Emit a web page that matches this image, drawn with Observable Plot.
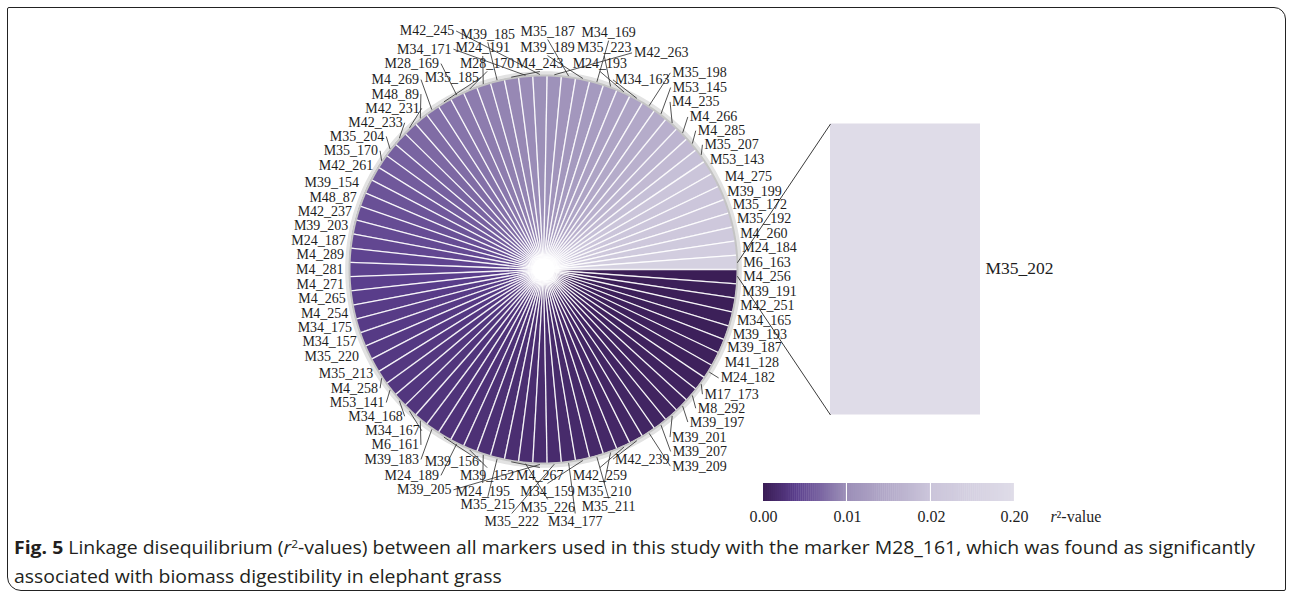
<!DOCTYPE html>
<html>
<head>
<meta charset="utf-8">
<script src="https://cdn.jsdelivr.net/npm/d3@7"></script>
<script src="https://cdn.jsdelivr.net/npm/@observablehq/plot@0.6"></script>
<style>
  html, body { margin: 0; padding: 0; background: #fff; }
  body { width: 1292px; height: 601px; position: relative; overflow: hidden; }
  #frame { position: absolute; left: 7px; top: 7px; width: 1279px; height: 584px; box-sizing: border-box;
           border: 1.6px solid #222; border-radius: 2px 12px 2px 14px; }
  #chart { position: absolute; left: 0; top: 0; }
  #caption { position: absolute; left: 14px; top: 532px; font-family: "Open Sans", sans-serif; font-size: 18.5px;
             line-height: 29px; color: #231f20; transform-origin: 0 0; white-space: nowrap; }
  #caption .ln { display: inline-block; }
  #caption sup { font-size: 0.62em; line-height: 0; vertical-align: 0.55em; }
</style>
</head>
<body>
<div id="frame"></div>
<div id="chart"></div>
<div id="caption"><div class="ln" id="l1"><b>Fig. 5</b> Linkage disequilibrium (<i>r</i><sup>2</sup>-values) between all markers used in this study with the marker M28_161, which was found as significantly</div><br><div class="ln" id="l2">associated with biomass digestibility in elephant grass</div></div>
<script>
// Markers, clockwise from 3 o'clock, with their r² to M28_161
const markers = [
  "M4_256","M39_191","M42_251","M34_165","M39_193","M39_187","M41_128","M24_182","M17_173","M8_292",
  "M39_197","M39_201","M39_207","M39_209","M42_239","M42_259","M35_210","M35_211","M34_159","M34_177",
  "M35_222","M39_205","M35_226","M4_267","M35_215","M24_195","M39_152","M24_189","M39_156","M39_183",
  "M6_161","M34_167","M34_168","M53_141","M4_258","M35_213","M35_220","M34_157","M34_175","M4_254",
  "M4_265","M4_271","M4_281","M4_289","M24_187","M39_203","M42_237","M48_87","M39_154","M42_261",
  "M35_170","M35_204","M42_233","M42_231","M48_89","M4_269","M35_185","M28_169","M28_170","M24_191",
  "M39_185","M4_243","M34_171","M42_245","M42_263","M35_187","M39_189","M34_169","M35_223","M24_193",
  "M34_163","M35_198","M53_145","M4_235","M4_266","M4_285","M35_207","M53_143","M4_275","M39_199",
  "M35_172","M35_192","M4_260","M24_184","M6_163"
];
const r2Values = [
  0.0001,0.0002,0.0002,0.0003,0.0003,0.0004,0.0005,0.0005,0.0006,0.0007,
  0.0008,0.0008,0.0009,0.0010,0.0011,0.0012,0.0013,0.0014,0.0015,0.0016,
  0.0017,0.0018,0.0019,0.0020,0.0021,0.0022,0.0023,0.0024,0.0025,0.0026,
  0.0027,0.0028,0.0029,0.0030,0.0031,0.0032,0.0033,0.0034,0.0035,0.0036,
  0.0038,0.0040,0.0042,0.0044,0.0046,0.0048,0.0050,0.0053,0.0056,0.0059,
  0.0062,0.0065,0.0068,0.0071,0.0074,0.0077,0.0080,0.0083,0.0086,0.0089,
  0.0092,0.0095,0.0098,0.0101,0.0105,0.0110,0.0115,0.0120,0.0126,0.0132,
  0.0139,0.0146,0.0154,0.0162,0.0171,0.0180,0.0190,0.0200,0.0230,0.0280,
  0.0350,0.0450,0.0600,0.0800,0.1100
];
// Marker shown in the side bar
const barMarker = "M35_202";
const barR2 = 0.20;
// Colour legend
const legendTicks = [0, 0.01, 0.02, 0.20];
const legendTickLabels = ["0.00", "0.01", "0.02", "0.20"];
const colorStops = [0, 0.004, 0.01, 0.02, 0.20];
const colorRange = ["#3a1d55", "#5b3f8d", "#9c8fb8", "#cbc5da", "#dfdce8"];

// Layout: pie centre and radius in pixels; chart units are pie radii
const W = 1292, H = 535;
const cx = 543, cy = 269, R = 194;
const n = markers.length;
const step = 2 * Math.PI / n;
const ux = (px) => (px - cx) / R;
const uy = (py) => (cy - py) / R;

// Wedge outlines (arc points; the area closes onto the centre)
const arcPts = markers.flatMap((name, i) => d3.range(9).map((k) => {
  const a = (i + k / 8) * step;
  return {name, r2: r2Values[i], x: Math.cos(a), y: -Math.sin(a)};
}));

// Label placement: try spots outside the rim, nearest first, skipping collisions
const ctx = document.createElement("canvas").getContext("2d");
ctx.font = "14px 'Liberation Serif'";
const textW = (s) => ctx.measureText(s).width;
const obstacles = [[822, 108, 1072, 426], [752, 474, 1120, 534]];
const boxes = [];
const hits = (b) => {
  for (const o of obstacles.concat(boxes)) {
    if (b[0] < o[2] + 1.5 && b[2] > o[0] - 1.5 && b[1] < o[3] + 0.6 && b[3] > o[1] - 0.6) return true;
  }
  return false;
};
const rectDist = (b) => Math.hypot(Math.max(b[0] - cx, 0, cx - b[2]), Math.max(b[1] - cy, 0, cy - b[3]));
const segDist = (x1, y1, x2, y2) => {
  const vx = x2 - x1, vy = y2 - y1, L = vx * vx + vy * vy || 1;
  const t = Math.max(0, Math.min(1, ((cx - x1) * vx + (cy - y1) * vy) / L));
  return Math.hypot(x1 + t * vx - cx, y1 + t * vy - cy);
};
const mid = (i) => (i + 0.5) * step;
const order = d3.range(n).sort((a, b) => Math.abs(Math.sin(mid(a))) - Math.abs(Math.sin(mid(b))));
const labels = [];
for (const i of order) {
  const th = mid(i), w = textW(markers[i]);
  const ex = cx + (R + 1) * Math.cos(th), ey = cy + (R + 1) * Math.sin(th);
  let best = null;
  for (let dr = 4; dr <= 280; dr += 4) {
    if (best && dr >= best.cost) break;
    for (let k = -14; k <= 14; k++) {
      const cost = dr + 6 * Math.abs(k);
      if (best && cost >= best.cost) continue;
      const ph = th + k * step * 0.5, rho = R + dr;
      const px = cx + rho * Math.cos(ph), py = cy + rho * Math.sin(ph);
      const c = Math.cos(ph), s = Math.sin(ph);
      let anchor, tx, ty, box;
      if (c > 0.28) { anchor = "start"; tx = px + 2; ty = py; box = [tx, ty - 7, tx + w, ty + 6]; }
      else if (c < -0.28) { anchor = "end"; tx = px - 2; ty = py; box = [tx - w, ty - 7, tx, ty + 6]; }
      else { anchor = "middle"; tx = px; ty = s < 0 ? py - 8 : py + 8; box = [tx - w / 2, ty - 7, tx + w / 2, ty + 6]; }
      if (box[0] < 12 || box[2] > 1280 || box[1] < 12 || box[3] > 533) continue;
      if (rectDist(box) < R + 2) continue;
      if (segDist(ex, ey, px, py) < R + 0.5) continue;
      if (hits(box)) continue;
      best = {cost, anchor, tx, ty, px, py, box};
    }
  }
  if (!best) {
    const px = cx + (R + 6) * Math.cos(th), py = cy + (R + 6) * Math.sin(th);
    best = {anchor: Math.cos(th) >= 0 ? "start" : "end", tx: px, ty: py, px, py, box: [px, py, px, py]};
  }
  boxes.push(best.box);
  labels.push({
    name: markers[i], anchor: best.anchor,
    tx: ux(best.tx), ty: uy(best.ty),
    lx1: ux(ex), ly1: uy(ey), lx2: ux(best.px), ly2: uy(best.py),
    lead: Math.hypot(best.px - ex, best.py - ey) > 8
  });
}

// Side bar and its connectors to the pie
const bar = {name: barMarker, r2: barR2, x1: ux(830), x2: ux(980), y1: -0.75, y2: 0.75};
const tilt = 2 * Math.PI / 180;
const connectors = [
  {x1: Math.cos(tilt), y1: Math.sin(tilt), x2: bar.x1, y2: bar.y2},
  {x1: Math.cos(tilt), y1: -Math.sin(tilt), x2: bar.x1, y2: bar.y1}
];

// Legend: three equal-width gradient segments between the tick values
const legL = 763, segW = 84, legTop = 483, legBot = 501, cellsPerSeg = 42;
const legendCells = d3.range(3).flatMap((s) => d3.range(cellsPerSeg).map((k) => {
  const a = legendTicks[s], b = legendTicks[s + 1];
  const w = (segW - 1.5) / cellsPerSeg;
  return {
    v: a + (b - a) * (k + 0.5) / cellsPerSeg,
    x1: ux(legL + s * segW + k * w), x2: ux(legL + s * segW + (k + 1) * w + 0.4)
  };
}));
const legendTickData = legendTicks.map((t, j) => ({label: legendTickLabels[j], x: ux(legL + j * segW + (j === 3 ? -1 : 0))}));

const serif = "'Liberation Serif', 'Times New Roman', serif";
const chart = Plot.plot({
  width: W, height: H,
  x: {domain: [ux(0), ux(W)], range: [0, W], axis: null},
  y: {domain: [uy(H), uy(0)], range: [H, 0], axis: null},
  color: {type: "linear", domain: colorStops, range: colorRange, interpolate: "rgb"},
  style: {background: "transparent", fontFamily: serif, overflow: "visible"},
  marks: [
    Plot.line(d3.range(361), {x: (d) => 1.012 * Math.cos(d * Math.PI / 180), y: (d) => 1.012 * Math.sin(d * Math.PI / 180), stroke: "#e2e2e2", strokeWidth: 4}),
    Plot.area(arcPts, {x1: "x", y1: "y", x2: 0, y2: 0, z: "name", fill: "r2", curve: "linear"}),
    Plot.link(d3.range(n), {x1: 0, y1: 0, x2: (i) => Math.cos(i * step), y2: (i) => -Math.sin(i * step), stroke: "#ffffff", strokeWidth: 1.3, strokeOpacity: 0.95}),
    Plot.line(d3.range(361), {x: (d) => Math.cos(d * Math.PI / 180), y: (d) => Math.sin(d * Math.PI / 180), stroke: "#c4c4c4", strokeWidth: 2}),
    Plot.dot([{x: 0, y: 0}], {x: "x", y: "y", r: 16, fill: "#ffffff", fillOpacity: 0.45, stroke: "none"}),
    Plot.dot([{x: 0, y: 0}], {x: "x", y: "y", r: 11, fill: "#ffffff", stroke: "none"}),
    Plot.rect([bar], {x1: "x1", x2: "x2", y1: "y1", y2: "y2", fill: "r2"}),
    Plot.link(connectors, {x1: "x1", y1: "y1", x2: "x2", y2: "y2", stroke: "#3a3a3a", strokeWidth: 1}),
    Plot.text([bar], {x: ux(985), y: uy(268), text: "name", textAnchor: "start", fontSize: 17.5, fill: "#1e1e1e"}),
    Plot.link(labels.filter((d) => d.lead), {x1: "lx1", y1: "ly1", x2: "lx2", y2: "ly2", stroke: "#333", strokeWidth: 0.85}),
    Plot.text(labels.filter((d) => d.anchor === "start"), {x: "tx", y: "ty", text: "name", textAnchor: "start", fontSize: 14, fill: "#1e1e1e"}),
    Plot.text(labels.filter((d) => d.anchor === "end"), {x: "tx", y: "ty", text: "name", textAnchor: "end", fontSize: 14, fill: "#1e1e1e"}),
    Plot.text(labels.filter((d) => d.anchor === "middle"), {x: "tx", y: "ty", text: "name", textAnchor: "middle", fontSize: 14, fill: "#1e1e1e"}),
    Plot.rect(legendCells, {x1: "x1", x2: "x2", y1: uy(legBot), y2: uy(legTop), fill: "v"}),
    Plot.text(legendTickData, {x: "x", y: uy(516), text: "label", textAnchor: "middle", fontSize: 16, fill: "#1e1e1e"}),
    Plot.text(["r"], {x: ux(1050), y: uy(516), text: (d) => d, textAnchor: "start", fontSize: 16, fontStyle: "italic", fill: "#1e1e1e"}),
    Plot.text(["²-value"], {x: ux(1056), y: uy(516), text: (d) => d, textAnchor: "start", fontSize: 16, fill: "#1e1e1e"})
  ]
});
document.getElementById("chart").appendChild(chart);

// Fit the caption's first line to the panel width
const cap = document.getElementById("caption");
const w1 = document.getElementById("l1").getBoundingClientRect().width;
if (w1 > 0) cap.style.transform = `scaleX(${(1241 / w1).toFixed(4)})`;
</script>
</body>
</html>
